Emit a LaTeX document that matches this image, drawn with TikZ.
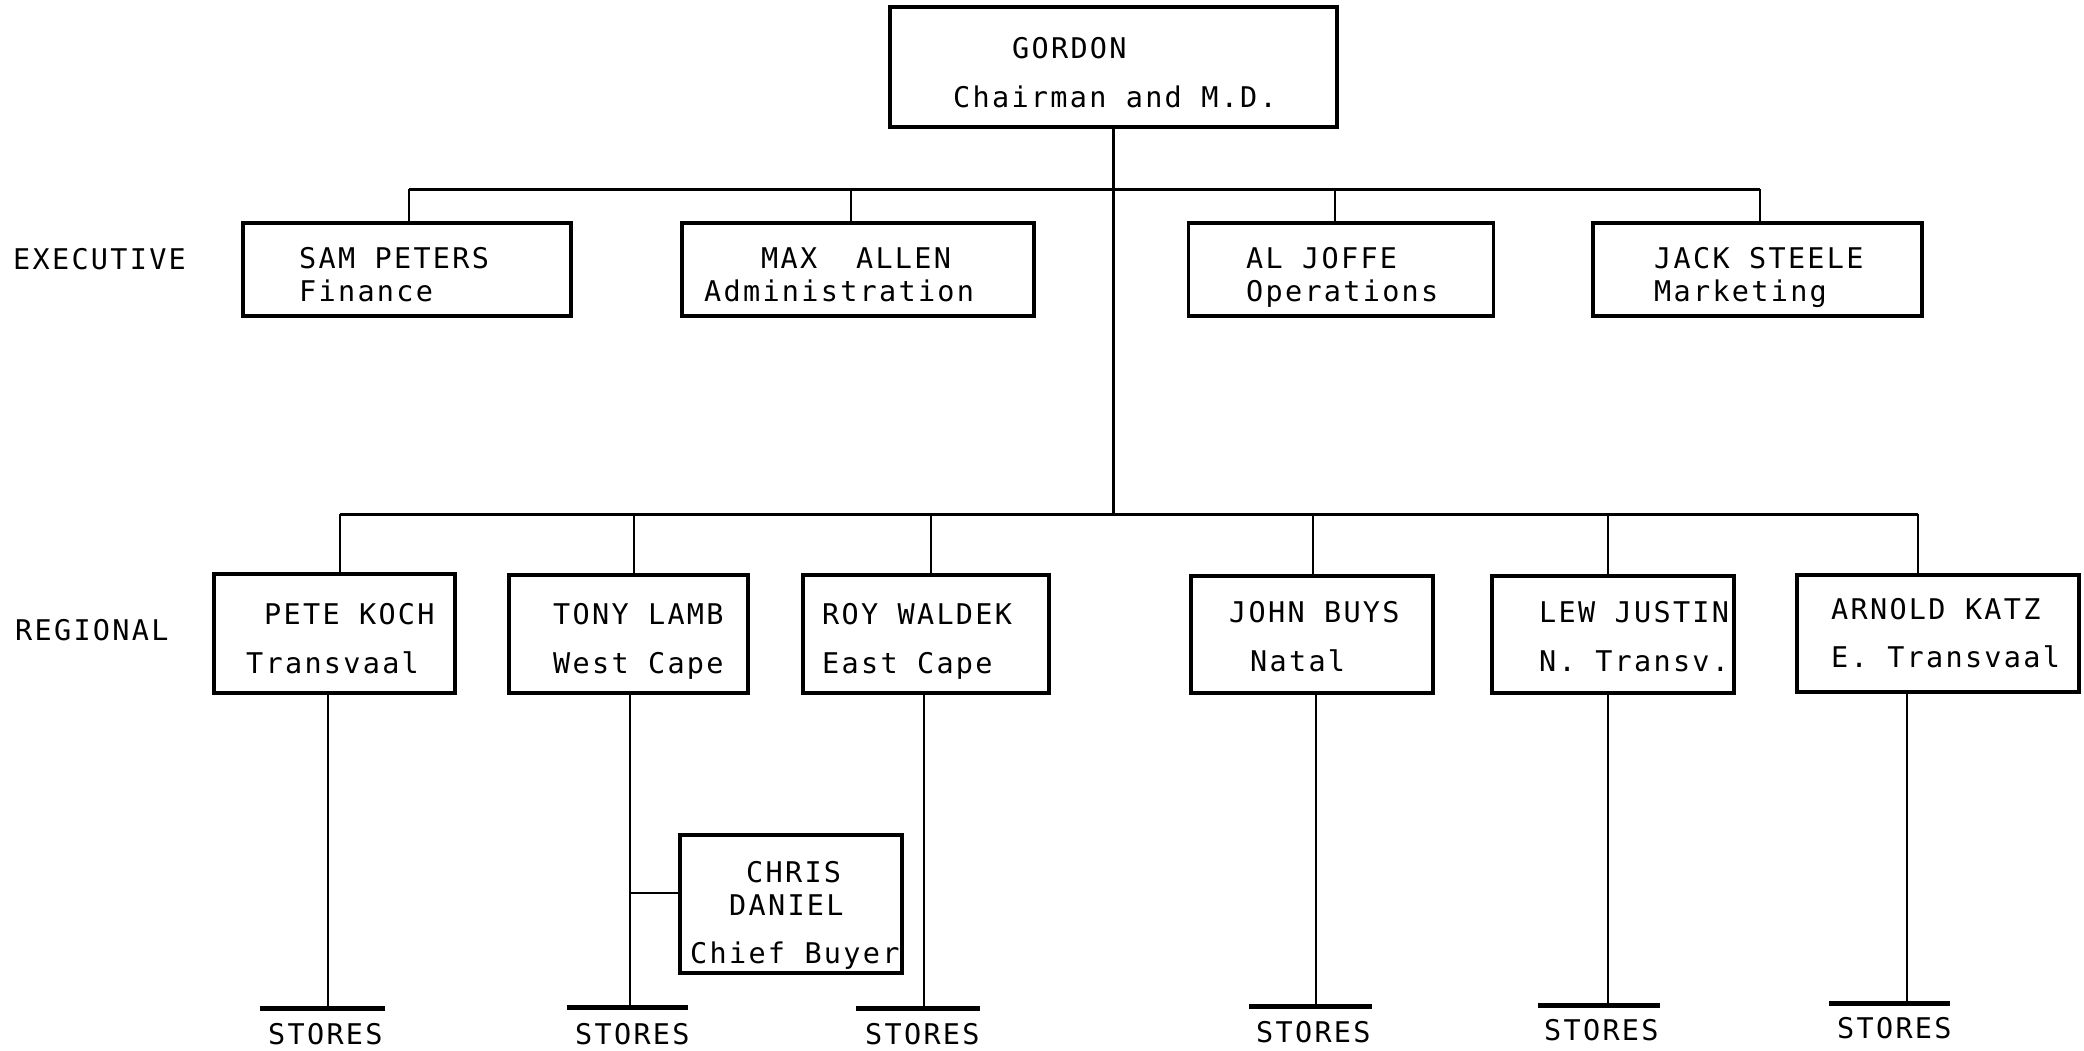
\documentclass[tikz,border=0pt]{standalone}
\usepackage{fontspec}
\usetikzlibrary{calc}
\newfontfamily\tw{DejaVu Sans Mono}[LetterSpace=8]
\begin{document}
\begin{tikzpicture}[x=1pt,y=-1pt,
  box/.style={draw, line width=3.2pt, inner sep=0pt},
  txt/.style={anchor=base west, inner sep=0pt, font=\tw\fontsize{28.5}{34}\selectfont},
  link/.style={line width=2.2pt},
  trunk/.style={line width=3pt},
  bar/.style={line width=5pt}]
\useasboundingbox (0,0) rectangle (2084,1050);

% --- boxes ---
\node[box, minimum width=447pt, minimum height=120pt] (gordon) at (1113.5,67) {};
\node[box, minimum width=328pt, minimum height=93pt] (sam)  at (407,269.5) {};
\node[box, minimum width=352pt, minimum height=93pt] (max)  at (858,269.5) {};
\node[box, minimum width=305pt, minimum height=93pt] (al)   at (1341,269.5) {};
\node[box, minimum width=329pt, minimum height=93pt] (jack) at (1757.5,269.5) {};

\node[box, minimum width=241pt, minimum height=119pt] (pete)   at (334.5,633.5) {};
\node[box, minimum width=239pt, minimum height=118pt] (tony)   at (628.5,634) {};
\node[box, minimum width=246pt, minimum height=118pt] (roy)    at (926,634) {};
\node[box, minimum width=242pt, minimum height=117pt] (john)   at (1312,634.5) {};
\node[box, minimum width=242pt, minimum height=117pt] (lew)    at (1613,634.5) {};
\node[box, minimum width=282pt, minimum height=117pt] (arnold) at (1938,633.5) {};
\node[box, minimum width=222pt, minimum height=138pt] (chris)  at (791,904) {};

% --- texts ---
\node[txt] (t-gordon) at (1012,58) {GORDON};
\node[txt] (t-gordon2) at (953,107) {Chairman and M.D.};
\node[txt] (t-sam) at (299,268) {SAM PETERS};
\node[txt] (t-sam2) at (299,301) {Finance};
\node[txt] (t-max) at (761,268) {MAX\ \ ALLEN};
\node[txt] (t-max2) at (704,301) {Administration};
\node[txt] (t-al) at (1246,268) {AL JOFFE};
\node[txt] (t-al2) at (1246,301) {Operations};
\node[txt] (t-jack) at (1654,268) {JACK STEELE};
\node[txt] (t-jack2) at (1654,301) {Marketing};

\node[txt] (t-pete) at (264,624) {PETE KOCH};
\node[txt] (t-pete2) at (246,673) {Transvaal};
\node[txt] (t-tony) at (553,624) {TONY LAMB};
\node[txt] (t-tony2) at (553,673) {West Cape};
\node[txt] (t-roy) at (822,624) {ROY WALDEK};
\node[txt] (t-roy2) at (822,673) {East Cape};
\node[txt] (t-john) at (1229,622) {JOHN BUYS};
\node[txt] (t-john2) at (1250,671) {Natal};
\node[txt] (t-lew) at (1539,622) {LEW JUSTIN};
\node[txt] (t-lew2) at (1539,671) {N. Transv.};
\node[txt] (t-arnold) at (1831,619) {ARNOLD KATZ};
\node[txt] (t-arnold2) at (1831,667) {E. Transvaal};

\node[txt] (t-chris) at (746,882) {CHRIS};
\node[txt] (t-chris2) at (729,915) {DANIEL};
\node[txt] (t-chris3) at (690,963) {Chief Buyer};

\node[txt] (l-exec) at (13,269) {EXECUTIVE};
\node[txt] (l-reg) at (15,640) {REGIONAL};

% --- bus joints ---
\coordinate (eb) at (0,189);
\coordinate (rb) at (0,514);
\coordinate (dsam) at (409,189);
\coordinate (dmax) at (851,189);
\coordinate (dal) at (1335,189);
\coordinate (djack) at (1760,189);
\coordinate (dpete) at (340,514);
\coordinate (dtony) at (634,514);
\coordinate (droy) at (931,514);
\coordinate (djohn) at (1313,514);
\coordinate (dlew) at (1608,514);
\coordinate (darnold) at (1918,514);

% --- store bar centres (where the lines land) ---
\coordinate (spete) at (328,1008);
\coordinate (stony) at (630,1007);
\coordinate (sroy) at (924,1008);
\coordinate (sjohn) at (1316,1006);
\coordinate (slew) at (1608,1005);
\coordinate (sarnold) at (1907,1003);

% --- trunk and buses ---
\draw[trunk] (gordon.south) -- (gordon.south |- rb);
\draw[trunk] (dsam) -- (djack);
\draw[trunk] (dpete) -- (darnold);

% --- drops to boxes ---
\foreach \d/\b in {dsam/sam, dmax/max, dal/al, djack/jack,
                   dpete/pete, dtony/tony, droy/roy, djohn/john, dlew/lew, darnold/arnold}
  \draw[link] (\d) -- (\b.north -| \d);

% --- lines down to the stores ---
\foreach \b/\s in {pete/spete, tony/stony, roy/sroy, john/sjohn, lew/slew, arnold/sarnold}
  \draw[link] (\b.south -| \s) -- (\s);

% --- chief buyer side link ---
\coordinate (cl) at ($(chris.west)+(0,-11)$);
\draw[link] (cl) -- (cl -| stony);

% --- store bars ---
\draw[bar] ($(spete)+(-68,0)$) -- ($(spete)+(57,0)$);
\draw[bar] ($(stony)+(-63,0)$) -- ($(stony)+(58,0)$);
\draw[bar] ($(sroy)+(-68,0)$) -- ($(sroy)+(56,0)$);
\draw[bar] ($(sjohn)+(-67,0)$) -- ($(sjohn)+(56,0)$);
\draw[bar] ($(slew)+(-70,0)$) -- ($(slew)+(52,0)$);
\draw[bar] ($(sarnold)+(-78,0)$) -- ($(sarnold)+(43,0)$);

% --- store labels ---
\node[txt] (st1) at (268,1044) {STORES};
\node[txt] (st2) at (575,1044) {STORES};
\node[txt] (st3) at (865,1044) {STORES};
\node[txt] (st4) at (1256,1042) {STORES};
\node[txt] (st5) at (1544,1040) {STORES};
\node[txt] (st6) at (1837,1038) {STORES};
\end{tikzpicture}
\end{document}
